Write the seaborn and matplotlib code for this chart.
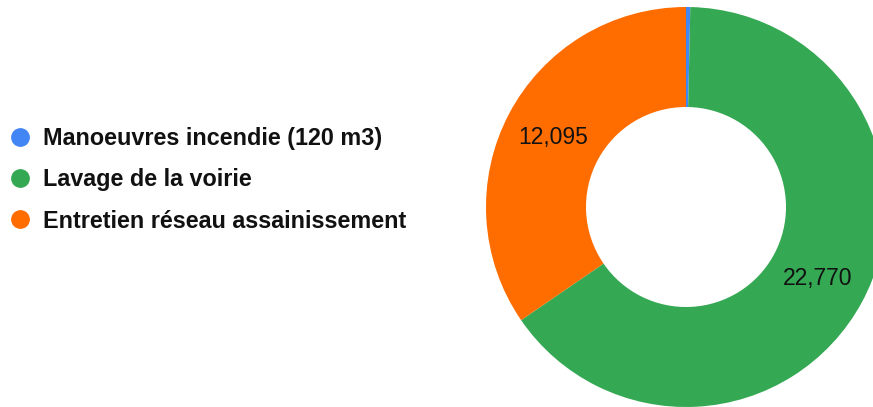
import matplotlib
matplotlib.use("Agg")
import matplotlib.pyplot as plt
from matplotlib.lines import Line2D
import numpy as np
import seaborn as sns

# data
labels = ["Manoeuvres incendie (120 m3)", "Lavage de la voirie", "Entretien réseau assainissement"]
values = [120, 22770, 12095]
colors = ["#4285F4", "#34A853", "#FF6D01"]

sns.set_theme(style="white")
plt.rcParams["font.family"] = ["Liberation Sans", "DejaVu Sans"]

W, H = 873, 407
fig = plt.figure(figsize=(W / 100, H / 100), dpi=100)

# donut: centre ~ (686, 207), outer radius ~200 px, partly cut at right edge
cx, cy, r = 686, 207, 200
ax = fig.add_axes([(cx - r) / W, (H - cy - r) / H, 2 * r / W, 2 * r / H])
wedges, _ = ax.pie(
    values,
    colors=colors,
    startangle=90,
    counterclock=False,
    radius=1.0,
    wedgeprops=dict(width=0.5, edgecolor="none"),
)
ax.set_xlim(-1, 1)
ax.set_ylim(-1, 1)
ax.set_aspect("equal")
ax.axis("off")

# value labels on the two big slices
total = sum(values)
start = 90.0
for v in values:
    ang = start - 360.0 * v / total / 2
    start -= 360.0 * v / total
    if v / total < 0.05:
        continue
    x = 0.75 * np.cos(np.radians(ang))
    y = 0.75 * np.sin(np.radians(ang))
    ax.text(x, y, f"{v:,}", ha="center", va="center", fontsize=16.5, color="#111111")

handles = [Line2D([0], [0], marker="o", linestyle="none", markersize=12.5,
                  markerfacecolor=c, markeredgecolor=c) for c in colors]
leg = fig.legend(handles, labels, loc="center left", bbox_to_anchor=(0.0, 0.558),
                 frameon=False, prop=dict(size=16.8, weight="bold"),
                 handletextpad=0.45, labelspacing=0.78, handlelength=1.1,
                 borderaxespad=0.0, borderpad=0.3)
for t in leg.get_texts():
    t.set_color("#111111")

fig.savefig("out.png", dpi=100)
